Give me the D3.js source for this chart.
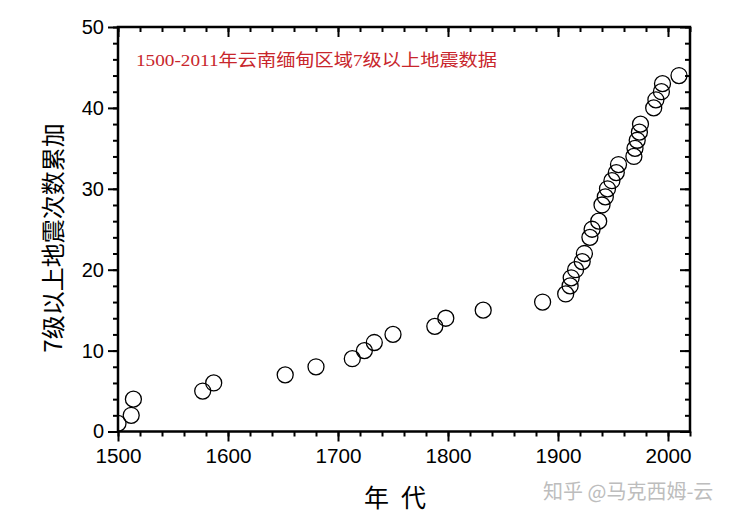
<!DOCTYPE html>
<html><head><meta charset="utf-8">
<script src="https://cdn.jsdelivr.net/npm/d3@7"></script>
<style>html,body{margin:0;padding:0;background:#fff;}</style>
</head><body>
<svg id="c" width="750" height="523"></svg>
<script>
const years = [1500,1512,1514,1577,1587,1652,1680,1713,1724,1733,1750,1788,1798,1832,1886,1907,1911,1912,1916,1922,1924,1929,1931,1937,1940,1943,1945,1949,1953,1955,1969,1970,1972,1974,1975,1987,1989,1994,1995,2010];
const counts = [1,2,4,5,6,7,8,9,10,11,12,13,14,15,16,17,18,19,20,21,22,24,25,26,28,29,30,31,32,33,34,35,36,37,38,40,41,42,43,44];
const xTicks = [1500,1600,1700,1800,1900,2000];
const yTicks = [0,10,20,30,40,50];
const title = "1500-2011年云南缅甸区域7级以上地震数据";
const xTitle = "年代";
const yTitle = "7级以上地震次数累加";
const watermark = "知乎 @马克西姆-云";

const svg = d3.select("#c");
const L=118, R=690, T=27, B=431.5;
const x = d3.scaleLinear().domain([1500,2020]).range([L,R]);
const y = d3.scaleLinear().domain([0,50]).range([B,T]);
const font = "'Liberation Sans', Arial, sans-serif";

function styleAxis(g, lblSize){
  g.selectAll("path").remove();
  g.selectAll("line").attr("stroke","#000").attr("stroke-width",2);
  g.selectAll("text").attr("font-family",font).attr("font-size",lblSize).attr("fill","#000");
}
const xMinor = d3.range(1500,2021,20);
const yMinor = d3.range(0,51,2);
// bottom
svg.append("g").attr("transform",`translate(0,${B})`)
  .call(d3.axisBottom(x).tickValues(xMinor).tickSize(5).tickFormat("")).call(g=>styleAxis(g,0));
svg.append("g").attr("transform",`translate(0,${B})`)
  .call(d3.axisBottom(x).tickValues(xTicks).tickSize(10).tickPadding(7).tickFormat(d3.format("d")))
  .call(g=>styleAxis(g,"20px"))
  .call(g=>g.selectAll("text").attr("textLength",46).attr("lengthAdjust","spacingAndGlyphs"));
// top (inward)
svg.append("g").attr("transform",`translate(0,${T})`)
  .call(d3.axisBottom(x).tickValues(xMinor).tickSize(5).tickFormat("")).call(g=>styleAxis(g,0));
svg.append("g").attr("transform",`translate(0,${T})`)
  .call(d3.axisBottom(x).tickValues(xTicks).tickSize(10).tickFormat("")).call(g=>styleAxis(g,0));
// left
svg.append("g").attr("transform",`translate(${L},0)`)
  .call(d3.axisLeft(y).tickValues(yMinor).tickSize(5).tickFormat("")).call(g=>styleAxis(g,0));
svg.append("g").attr("transform",`translate(${L},0)`)
  .call(d3.axisLeft(y).tickValues(yTicks).tickSize(10).tickPadding(4).tickFormat(d3.format("d")))
  .call(g=>styleAxis(g,"20px"));
// right (inward)
svg.append("g").attr("transform",`translate(${R},0)`)
  .call(d3.axisLeft(y).tickValues(yMinor).tickSize(5).tickFormat("")).call(g=>styleAxis(g,0));
svg.append("g").attr("transform",`translate(${R},0)`)
  .call(d3.axisLeft(y).tickValues(yTicks).tickSize(10).tickFormat("")).call(g=>styleAxis(g,0));
// frame
svg.append("rect").attr("x",L).attr("y",T).attr("width",R-L).attr("height",B-T)
  .attr("fill","none").attr("stroke","#000").attr("stroke-width",2.5);

// points
const clip = svg.append("clipPath").attr("id","clp").append("rect")
  .attr("x",L).attr("y",T-10).attr("width",R-L+10).attr("height",B-T+10);
svg.append("g").attr("clip-path","url(#clp)").selectAll("circle")
  .data(years.map((d,i)=>({yr:d,c:counts[i]})))
  .join("circle")
  .attr("cx",d=>x(d.yr)).attr("cy",d=>y(d.c)).attr("r",8)
  .attr("fill","#fff").attr("fill-opacity",0.01).attr("stroke","#000").attr("stroke-width",1.3);

// title
svg.append("text").attr("x",136).attr("y",66).attr("fill","#c8262c")
  .attr("font-family","'Liberation Serif','Noto Sans CJK SC',serif").attr("font-size","17px")
  .attr("textLength",361).attr("lengthAdjust","spacingAndGlyphs").text(title);
// axis titles
svg.append("text").attr("x",401).attr("y",507).attr("text-anchor","middle")
  .attr("font-family","'Noto Sans CJK SC',sans-serif").attr("font-size","25px").attr("letter-spacing","12px")
  .attr("fill","#000").text(xTitle);
svg.append("text").attr("transform","translate(62,238) rotate(-90)").attr("text-anchor","middle")
  .attr("font-family","'Noto Sans CJK SC',sans-serif").attr("font-size","24px")
  .attr("fill","#000").text(yTitle);
// watermark
svg.append("text").attr("x",543).attr("y",499)
  .attr("font-family","'Noto Sans CJK SC',sans-serif").attr("font-size","20px")
  .attr("fill","#bdbdbd").text(watermark);
</script>
</body></html>
